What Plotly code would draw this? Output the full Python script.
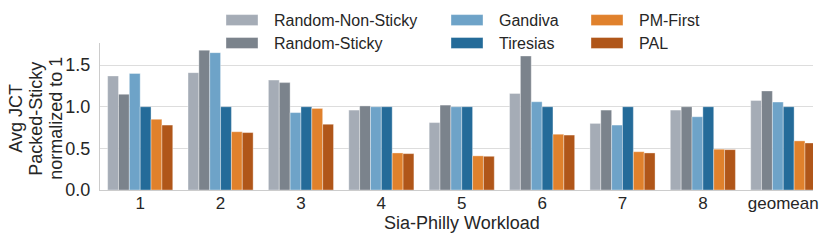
import plotly.graph_objects as go

categories = ["1", "2", "3", "4", "5", "6", "7", "8", "geomean"]
series_names = ["Random-Non-Sticky", "Random-Sticky", "Gandiva", "Tiresias", "PM-First", "PAL"]
random_non_sticky = [1.37, 1.41, 1.32, 0.96, 0.81, 1.16, 0.80, 0.96, 1.075]
random_sticky = [1.15, 1.68, 1.29, 1.01, 1.02, 1.61, 0.96, 1.00, 1.19]
gandiva = [1.40, 1.65, 0.93, 1.00, 1.00, 1.06, 0.78, 0.88, 1.056]
tiresias = [1.00, 1.00, 1.00, 1.00, 1.00, 1.00, 1.00, 1.00, 1.00]
pm_first = [0.85, 0.70, 0.98, 0.445, 0.41, 0.67, 0.46, 0.49, 0.59]
pal = [0.78, 0.69, 0.79, 0.437, 0.405, 0.66, 0.445, 0.485, 0.565]
y_ticks = [0.0, 0.5, 1.0, 1.5]
y_tick_labels = ["0.0", "0.5", "1.0", "1.5"]
y_title_lines = ["Avg JCT", "Packed-Sticky", "normalized to 1"]
x_title = "Sia-Philly Workload"

values = [random_non_sticky, random_sticky, gandiva, tiresias, pm_first, pal]
colors = ["#a5acb6", "#7b838c", "#6ea3c8", "#246b99", "#e0812c", "#b05619"]

FONT = "Liberation Sans, Arial, sans-serif"
TXT = "#262626"
L, R, T, B = 100, 18, 43, 50.5
W, H = 831, 241
PW, PH = W - L - R, H - T - B


def px(x):
    return (x - L) / PW


def py(y):
    return (H - B - y) / PH


fig = go.Figure()
for name, vals, col in zip(series_names, values, colors):
    fig.add_trace(go.Bar(
        x=list(range(len(categories))), y=vals, name=name,
        marker=dict(color=col, line=dict(color="rgba(255,255,255,0.6)", width=0.6)),
        showlegend=False,
    ))

# manual legend (3 columns x 2 rows, column-major)
leg_cols_x = [226, 451, 591]
leg_rows_y = [20, 43]
for i, (name, col) in enumerate(zip(series_names, colors)):
    c, r = i // 2, i % 2
    x0 = leg_cols_x[c]
    yc = leg_rows_y[r]
    fig.add_shape(type="rect", xref="paper", yref="paper",
                  x0=px(x0), x1=px(x0 + 32),
                  y0=py(yc + 5.5), y1=py(yc - 5.5),
                  fillcolor=col, line=dict(color="rgba(255,255,255,0.6)", width=0.6))
    fig.add_annotation(xref="paper", yref="paper",
                       x=px(x0 + 46), y=py(yc),
                       text=name, showarrow=False, xanchor="left", yanchor="middle",
                       font=dict(family=FONT, size=16, color=TXT))

for line, xc in zip(y_title_lines, [16, 36, 56]):
    fig.add_annotation(xref="paper", yref="paper", x=px(xc), y=py(119),
                       text=line, textangle=-90,
                       showarrow=False, xanchor="center", yanchor="middle",
                       font=dict(family=FONT, size=18, color=TXT))

fig.add_annotation(xref="paper", yref="paper", x=px(462), y=py(224),
                   text=x_title, showarrow=False, xanchor="center", yanchor="middle",
                   font=dict(family=FONT, size=18, color=TXT))

fig.update_layout(
    width=W, height=H,
    margin=dict(l=L, r=R, t=T, b=B, pad=0),
    paper_bgcolor="white", plot_bgcolor="white",
    barmode="group", bargap=0.19, bargroupgap=0,
    font=dict(family=FONT, size=18, color=TXT),
    xaxis=dict(
        tickmode="array", tickvals=list(range(len(categories))), ticktext=categories,
        range=[-0.5, 8.37], showgrid=False, showline=True, linecolor="#cccccc",
        linewidth=1.2, ticks="", tickfont=dict(size=17), ticklabelstandoff=-3,
        zeroline=False,
    ),
    yaxis=dict(
        range=[0, 1.766], tickmode="array", tickvals=y_ticks, ticktext=y_tick_labels,
        showgrid=True, gridcolor="#dddddd", gridwidth=1, showline=True,
        linecolor="#cccccc", linewidth=1.2, ticks="", tickfont=dict(size=18),
        zeroline=False, ticklabelstandoff=5,
    ),
)

fig.write_html("out.html", config={"displayModeBar": False},
               post_script="document.body.style.margin='0';document.body.style.padding='0';")
